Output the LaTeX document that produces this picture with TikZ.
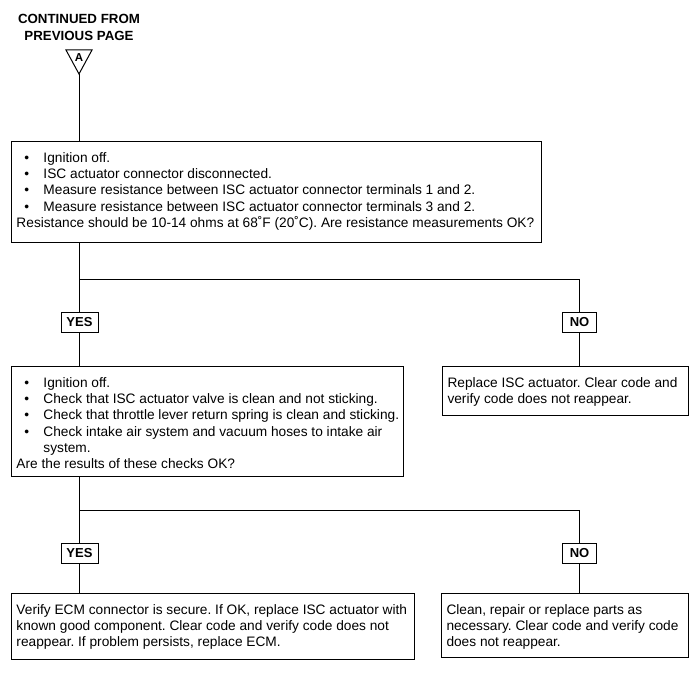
\documentclass[tikz,border=0pt]{standalone}
\usepackage{fontspec}
\setmainfont{Liberation Sans}
\tikzset{
  box/.style={draw, line width=1pt, inner sep=0pt, anchor=north west},
  tag/.style={draw, line width=1pt, inner sep=0pt, minimum height=20pt, font=\fontsize{13}{14}\selectfont\bfseries},
  yestag/.style={tag, minimum width=37pt},
  notag/.style={tag, minimum width=34pt},
  conn/.style={line width=0.9pt}
}
\newcommand\bxt[4]{\parbox[c][#2][t]{#1}{\vspace*{#3}\fontsize{13.7}{16.2}\selectfont\frenchspacing\leftskip=5pt\rightskip=0pt plus 1fil\parindent=0pt #4}}
\newcommand\bul{\makebox[27pt][l]{\hspace{8pt}•}}
\begin{document}
\begin{tikzpicture}[x=1pt,y=-1pt]
\useasboundingbox (0,0) rectangle (700,677);
\node[font=\fontsize{13.3}{17}\selectfont\bfseries, align=center] (hdr) at (79,27) {CONTINUED FROM\\PREVIOUS PAGE};
\draw[line width=1pt] (66,50) -- (92,50) -- (79,74) -- cycle;
\node[font=\fontsize{11.5}{12}\selectfont\bfseries, inner sep=0pt] (lblA) at (79,57.5) {A};
\coordinate (apex) at (79,74);

\node[box] (b1) at (11,141) {\bxt{530pt}{101pt}{11pt}{%
\bul Ignition off.\\
\bul ISC actuator connector disconnected.\\
\bul Measure resistance between ISC actuator connector terminals 1 and 2.\\
\bul Measure resistance between ISC actuator connector terminals 3 and 2.\\
Resistance should be 10-14 ohms at 68˚F (20˚C). Are resistance measurements OK?}};

\node[yestag] (yes1) at (79.5,322.5) {YES};
\node[notag] (no1) at (579.5,322.5) {NO};
\coordinate (j1) at (79,279);

\node[box] (b2) at (11,366) {\bxt{392pt}{110pt}{11pt}{%
\bul Ignition off.\\
\bul Check that ISC actuator valve is clean and not sticking.\\
\bul Check that throttle lever return spring is clean and sticking.\\
\bul Check intake air system and vacuum hoses to intake air\\
\hspace*{27pt}system.\\
Are the results of these checks OK?}};

\node[box] (b3) at (442,366) {\bxt{246pt}{49pt}{11pt}{%
Replace ISC actuator. Clear code and\\
verify code does not reappear.}};

\node[yestag] (yes2) at (79.5,553) {YES};
\node[notag] (no2) at (579.5,553) {NO};
\coordinate (j2) at (79,510);

\node[box] (b4) at (11,593) {\bxt{403pt}{66pt}{11pt}{%
Verify ECM connector is secure. If OK, replace ISC actuator with\\
known good component. Clear code and verify code does not\\
reappear. If problem persists, replace ECM.}};

\node[box] (b5) at (441,593) {\bxt{247pt}{64pt}{11pt}{%
Clean, repair or replace parts as\\
necessary. Clear code and verify code\\
does not reappear.}};

\draw[conn] (apex) -- (apex |- b1.north);
\draw[conn] (b1.south -| yes1) -- (yes1.north);
\draw[conn] (j1) -| (no1.north);
\draw[conn] (yes1.south) -- (yes1 |- b2.north);
\draw[conn] (no1.south) -- (no1 |- b3.north);
\draw[conn] (b2.south -| yes2) -- (yes2.north);
\draw[conn] (j2) -| (no2.north);
\draw[conn] (yes2.south) -- (yes2 |- b4.north);
\draw[conn] (no2.south) -- (no2 |- b5.north);
\end{tikzpicture}
\end{document}
